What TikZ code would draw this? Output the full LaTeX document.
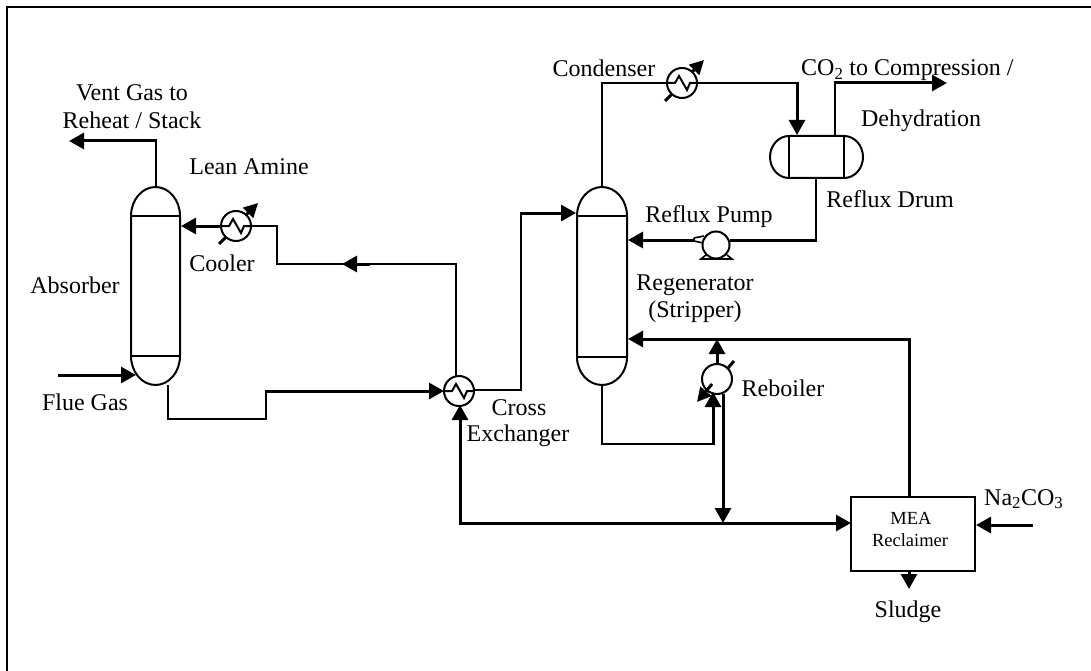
\documentclass[tikz,border=0pt]{standalone}
\usepackage{fontspec}
\setmainfont{Liberation Serif}
\usetikzlibrary{arrows.meta,calc}
\tikzset{
  lbl/.style={inner sep=0pt,anchor=base,font=\fontsize{24}{28}\selectfont},
  small/.style={inner sep=0pt,anchor=base,font=\fontsize{18.5}{21}\selectfont},
  pipe/.style={line width=2pt,line join=miter},
  heavy/.style={line width=3pt},
  flow/.style={-{Triangle[length=15pt,width=16pt]}},
  vessel/.style={line width=2pt,draw=black},
  hx/.style={circle,draw,line width=2pt,minimum size=30pt,inner sep=0pt,fill=white},
}
\newcommand{\hxzig}[1]{%
  \draw[line width=2pt] ($(#1)+(-15,0)$) -- ($(#1)+(-7,0)$) -- ($(#1)+(-3,-7)$) -- ($(#1)+(5,7)$) -- ($(#1)+(8,0)$) -- ($(#1)+(15,0)$);}
\newcommand{\hxutil}[1]{%
  \draw[heavy] ($(#1)+(-17,18)$) -- ($(#1)+(-10,11)$);
  \draw[heavy,-{Triangle[length=14pt,width=14pt]}] ($(#1)+(10,-11)$) -- ($(#1)+(22,-23)$);}
\begin{document}
\begin{tikzpicture}[x=1pt,y=-1pt]
\useasboundingbox (0,0) rectangle (1091,671);
\fill[white] (0,0) rectangle (1091,671);
\draw[line width=2pt] (7,671) -- (7,7) -- (1091,7);
% Absorber
\draw[vessel] (131,216) arc[start angle=180,end angle=360,x radius=24.5,y radius=29] -- (180,356) arc[start angle=0,end angle=180,x radius=24.5,y radius=29] -- cycle;
\draw[vessel] (131,216) -- (180,216) (131,356) -- (180,356);
% Regenerator
\draw[vessel] (577,216) arc[start angle=180,end angle=360,x radius=25,y radius=29] -- (627,357) arc[start angle=0,end angle=180,x radius=25,y radius=28] -- cycle;
\draw[vessel] (577,216) -- (627,216) (577,357) -- (627,357);
% Drum
\draw[vessel] (789,136) -- (844,136) arc[start angle=-90,end angle=90,x radius=19,y radius=21] -- (789,178) arc[start angle=90,end angle=270,x radius=19,y radius=21] -- cycle;
\draw[vessel] (789,136) -- (789,178) (844,136) -- (844,178);
% Box
\node[draw,line width=2pt,minimum width=124pt,minimum height=74pt,inner sep=0pt] (box) at (913,534) {};
\node[small] (m1) at (911,524) {MEA};
\node[small] (m2) at (910,546) {Reclaimer};
% Heat exchangers
\node[hx] (cool) at (236,226) {};
\node[hx] (cond) at (682,83) {};
\node[hx] (cross) at (459,391) {};
\node[hx] (reb) at (717,379) {};
% Pump
\node[circle,draw,line width=2pt,minimum size=27pt,inner sep=0pt] (pump) at (716,245) {};
\draw[line width=1.6pt] (694,238) -- (704,236) (694,241) -- (703,243) (694,238) -- (694,241);
\draw[line width=1.6pt] (706,255) -- (701,259) -- (732,259) -- (727,255);
% Pipes
\draw[pipe] (156,187) -- (156,141);
\draw[heavy,flow] (157,141) -- (69,141);
\draw[heavy,flow] (58,375) -- (136,375);
\draw[pipe] (168,385) -- (168,419) -- (266,419) -- (266,391);
\draw[heavy,flow] (265,391) -- (444,391);
\draw[heavy,flow] (221,226) -- (181,226);
\draw[pipe] (251,226) -- (277,226) -- (277,264) -- (456,264) -- (456,376);
\draw[heavy,flow] (370,264) -- (342,264);
\draw[pipe] (474,390) -- (521,390) -- (521,213);
\draw[heavy,flow] (520,213) -- (576,213);
\draw[pipe] (602,187) -- (602,83) -- (667,83);
\draw[pipe] (697,83) -- (797,83);
\draw[heavy,flow] (797,82) -- (797,135);
\draw[pipe] (835,136) -- (835,83);
\draw[heavy,flow] (834,83) -- (947,83);
\draw[pipe] (816,178) -- (816,240);
\draw[heavy] (817,240) -- (730,240);
\draw[heavy,flow] (694,240) -- (628,240);
\draw[pipe] (602,385) -- (602,444) -- (713,444);
\draw[heavy,flow] (713,445) -- (713,392);
\draw[heavy,flow] (909,497) -- (909,339) -- (628,339);
\draw[heavy,flow] (717,364) -- (717,339);
\draw[heavy,flow] (723,394) -- (723,523);
\draw[heavy,flow] (460,524) -- (460,405);
\draw[heavy,flow] (459,523) -- (851,523);
\draw[heavy,flow] (1033,525) -- (976,525);
\draw[heavy,flow] (909,571) -- (909,589);
% zigzags
\hxzig{cool}\hxzig{cond}\hxzig{cross}
% utility arrows
\hxutil{cool}\hxutil{cond}
\draw[heavy] (728,368) -- (734,361);
\draw[heavy,-{Triangle[length=14pt,width=14pt]}] (712,384) -- (697,402);
% Labels
\node[lbl] (t1a) at (132,101) {Vent Gas to};
\node[lbl] (t1b) at (132,129) {Reheat / Stack};
\node[lbl] (t2) at (249,175) {Lean Amine};
\node[lbl] (t3) at (222,271) {Cooler};
\node[lbl] (t4) at (75,293) {Absorber};
\node[lbl] (t5) at (85,410) {Flue Gas};
\node[lbl] (t6a) at (519,415) {Cross};
\node[lbl] (t6b) at (518,441) {Exchanger};
\node[lbl] (t7) at (604,77) {Condenser};
\node[lbl,anchor=base west] (t8) at (801,76) {CO\textsubscript{2} to Compression /};
\node[lbl] (t9) at (921,127) {Dehydration};
\node[lbl] (t10) at (890,207) {Reflux Drum};
\node[lbl] (t11) at (709,222) {Reflux Pump};
\node[lbl] (t12a) at (695,290) {Regenerator};
\node[lbl] (t12b) at (695,317) {(Stripper)};
\node[lbl] (t13) at (783,396) {Reboiler};
\node[lbl,anchor=base west] (t14) at (984,505) {Na\textsubscript{2}CO\textsubscript{3}};
\node[lbl] (t15) at (908,617) {Sludge};
\end{tikzpicture}
\end{document}
